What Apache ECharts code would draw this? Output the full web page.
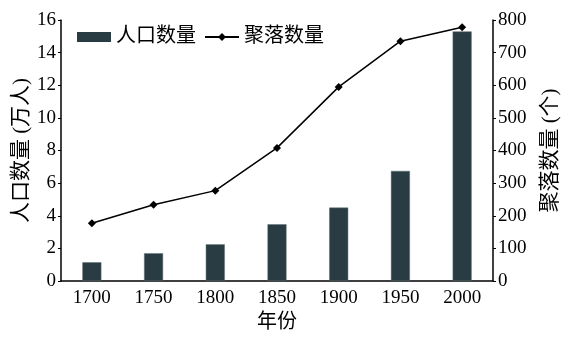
<!DOCTYPE html>
<html>
<head>
<meta charset="utf-8">
<script src="https://cdn.jsdelivr.net/npm/echarts@6/dist/echarts.min.js"></script>
<style>
  html, body { margin: 0; padding: 0; background: #fff; }
  #chart { width: 574px; height: 338px; }
</style>
</head>
<body>
<div id="chart"></div>
<script>
// Years on the x axis
var years = ['1700', '1750', '1800', '1850', '1900', '1950', '2000'];
// Population (10k people), bars on the left axis
var population = [1.15, 1.7, 2.25, 3.48, 4.5, 6.75, 15.3];
// Number of settlements, line on the right axis
var settlements = [177, 234, 277, 408, 595, 735, 778];

var serif = '"Liberation Serif", "Times New Roman", serif';
var cjk = '"Liberation Serif", "Noto Sans CJK SC", serif';
var ink = '#000';

var chart = echarts.init(document.getElementById('chart'), null, { renderer: 'canvas' });
chart.setOption({
  animation: false,
  backgroundColor: '#fff',
  grid: { left: 61, right: 81, top: 20, bottom: 57, containLabel: false, outerBoundsMode: 'none' },
  legend: {
    left: 72,
    top: 22,
    itemWidth: 34,
    itemHeight: 10,
    itemGap: 8,
    textStyle: { fontFamily: cjk, fontSize: 20, color: ink },
    data: [
      { name: '人口数量', icon: 'rect', itemStyle: { borderWidth: 0 } },
      { name: '聚落数量' }
    ]
  },
  xAxis: {
    type: 'category',
    data: years,
    name: '年份',
    nameLocation: 'middle',
    nameGap: 32,
    nameMoveOverlap: false,
    nameTextStyle: { fontFamily: cjk, fontSize: 20, color: ink },
    axisLine: { lineStyle: { color: ink, width: 1.5 } },
    axisTick: { show: false },
    axisLabel: { fontFamily: serif, fontSize: 19, color: ink, margin: 8 }
  },
  yAxis: [
    {
      type: 'value',
      min: 0, max: 16, interval: 2,
      name: '人口数量 (万人)',
      nameLocation: 'middle',
      nameGap: 29,
      nameMoveOverlap: false,
      nameRotate: 90,
      nameTextStyle: { fontFamily: cjk, fontSize: 21, color: ink },
      axisLine: { show: true, lineStyle: { color: ink, width: 1.5 } },
      axisTick: { show: true, length: 3, lineStyle: { color: ink } },
      axisLabel: { fontFamily: serif, fontSize: 19, color: ink, margin: 5 },
      splitLine: { show: false }
    },
    {
      type: 'value',
      min: 0, max: 800, interval: 100,
      position: 'right',
      name: '聚落数量 (个)',
      nameLocation: 'middle',
      nameGap: 47,
      nameMoveOverlap: false,
      nameRotate: 90,
      nameTextStyle: { fontFamily: cjk, fontSize: 21, color: ink },
      axisLine: { show: true, lineStyle: { color: ink, width: 1.5 } },
      axisTick: { show: true, length: 3, lineStyle: { color: ink } },
      axisLabel: { fontFamily: serif, fontSize: 19, color: ink, margin: 5 },
      splitLine: { show: false }
    }
  ],
  series: [
    {
      name: '人口数量',
      type: 'bar',
      yAxisIndex: 0,
      data: population,
      barWidth: 19,
      itemStyle: { color: '#2a3c43', borderColor: '#5f6f75', borderWidth: 0.5 }
    },
    {
      name: '聚落数量',
      type: 'line',
      yAxisIndex: 1,
      data: settlements,
      symbol: 'diamond',
      symbolSize: 8,
      lineStyle: { color: ink, width: 1.5 },
      itemStyle: { color: ink }
    }
  ]
});
</script>
</body>
</html>
